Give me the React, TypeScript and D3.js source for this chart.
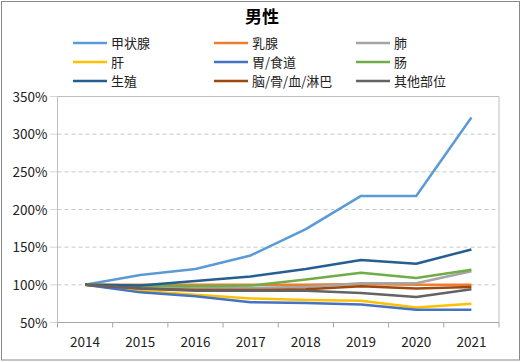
import React from "react";
import * as d3 from "d3";

const years = ["2014", "2015", "2016", "2017", "2018", "2019", "2020", "2021"];
const seriesNames = ["甲状腺", "乳腺", "肺", "肝", "胃/食道", "肠", "生殖", "脑/骨/血/淋巴", "其他部位"];
const colors = ["#5B9BD5", "#ED7D31", "#A5A5A5", "#FFC000", "#4472C4", "#70AD47", "#255E91", "#9E480E", "#636363"];
const thyroid = [100, 113, 121, 139, 174, 218, 218, 322];
const breast = [100, 100, 100, 100, 100, 101, 100, 100];
const lung = [100, 97, 95, 96, 97, 102, 102, 118];
const liver = [100, 92, 87, 82, 80, 79, 70, 75];
const stomach = [100, 90, 85, 77, 76, 74, 67, 67];
const intestine = [100, 99, 98, 99, 107, 116, 109, 120];
const reproductive = [100, 99, 105, 111, 121, 133, 128, 147];
const brainBlood = [100, 95, 93, 93, 94, 98, 95, 97];
const other = [100, 95, 92, 92, 92, 89, 84, 94];
const allSeries = [thyroid, breast, lung, liver, stomach, intestine, reproductive, brainBlood, other];
const yTicks = [50, 100, 150, 200, 250, 300, 350];

const font = "'Noto Sans CJK SC', 'Noto Sans', sans-serif";

export default function App() {
  const W = 521, H = 362;
  const left = 57.5, right = 499, top = 96.5, bottom = 322.5;
  const x = d3.scaleBand<string>().domain(years).range([left, right]);
  const y = d3.scaleLinear().domain([50, 350]).range([bottom, top]);
  const line = d3.line<number>()
    .x((_, i) => (x(years[i]) as number) + x.bandwidth() / 2)
    .y((d) => y(d));
  const legendCols = [73, 214, 356];
  const legendRows = [43, 62, 81];
  return (
    <svg width={W} height={H} style={{ position: "absolute", left: 0, top: 0, fontFamily: font }}>
      <rect x={0} y={0} width={W} height={H} fill="#fff" />
      <rect x={1.5} y={1.5} width={518} height={358.5} fill="none" stroke="#898989" strokeWidth={1} />
      <text x={262} y={23} textAnchor="middle" fontSize={17} fontWeight="bold" fill="#000">男性</text>
      {seriesNames.map((n, i) => {
        const cx = legendCols[i % 3];
        const cy = legendRows[Math.floor(i / 3)];
        return (
          <g key={n}>
            <line x1={cx} x2={cx + 34} y1={cy} y2={cy} stroke={colors[i]} strokeWidth={2.5} />
            <text x={cx + 38} y={cy + 4.5} fontSize={13} fill="#222">{n}</text>
          </g>
        );
      })}
      {yTicks.map((t) => (
        <g key={t}>
          {t !== 50 && t !== 350 && (
            <line x1={left} x2={right} y1={y(t)} y2={y(t)} stroke="#C8C8C8" strokeDasharray="4,3" />
          )}
          <line x1={left - 7} x2={left} y1={y(t)} y2={y(t)} stroke="#AAAAAA" strokeDasharray="1,1" />
          <text x={left - 10} y={y(t) + 5} textAnchor="end" fontSize={13.5} fill="#222">{t}%</text>
        </g>
      ))}
      <line x1={left} x2={right} y1={top} y2={top} stroke="#BFBFBF" />
      <line x1={right} x2={right} y1={top} y2={bottom} stroke="#BFBFBF" />
      <line x1={left} x2={left} y1={top} y2={bottom} stroke="#BFBFBF" />
      <line x1={left} x2={right} y1={bottom} y2={bottom} stroke="#A6A6A6" />
      {years.map((yr, i) => (
        <g key={yr}>
          <line x1={(x(yr) as number)} x2={(x(yr) as number)} y1={bottom} y2={bottom + 5} stroke="#A6A6A6" />
          <text x={(x(yr) as number) + x.bandwidth() / 2} y={347} textAnchor="middle" fontSize={13.5} fill="#222">{yr}</text>
        </g>
      ))}
      <line x1={right} x2={right} y1={bottom} y2={bottom + 5} stroke="#A6A6A6" />
      {allSeries.map((s, i) => (
        <path key={i} d={line(s) as string} fill="none" stroke={colors[i]} strokeWidth={2.5} strokeLinejoin="round" />
      ))}
    </svg>
  );
}
